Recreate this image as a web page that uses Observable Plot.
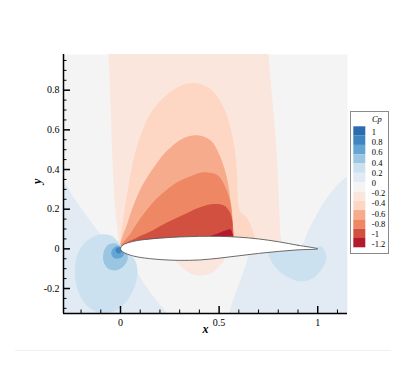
<!DOCTYPE html>
<html><head><meta charset="utf-8">
<script src="https://cdn.jsdelivr.net/npm/d3@7"></script>
<script src="https://cdn.jsdelivr.net/npm/@observablehq/plot@0.6"></script>
<style>
html,body{margin:0;padding:0;background:#fff;}
#wrap{position:relative;width:407px;height:365px;overflow:hidden;}
#chart{position:absolute;left:0;top:0;}
#legend{position:absolute;left:350px;top:111px;border:1px solid #8a8a8a;background:#fff;line-height:0;}
#rule{position:absolute;left:15px;top:350px;width:376px;height:0;border-top:1px solid #f0f0f0;}
</style></head>
<body><div id="wrap"><div id="chart"></div><div id="legend"></div><div id="rule"></div></div>
<script>
// Cp level colours (legend order, top to bottom) and labels
const levelColors = ["#2b6cb0","#3f86c1","#64a5d3","#9bc6e1","#cce1ef","#e2eaf4","#f4f4f4","#fbe6dd","#fdd7c3","#f6ab8d","#ee8763","#d2503f","#b31a2f"];
const levelLabels = ["1","0.8","0.6","0.4","0.2","0","-0.2","-0.4","-0.6","-0.8","-1","-1.2"];

// axis ticks
const xMajor = [0, 0.5, 1];
const xMinor = [-0.2,-0.1,0.1,0.2,0.3,0.4,0.6,0.7,0.8,0.9,1.1];
const yMajor = [-0.2,0,0.2,0.4,0.6,0.8];
const yMinor = [-0.3,-0.25,-0.15,-0.1,-0.05,0.05,0.1,0.15,0.25,0.3,0.35,0.45,0.5,0.55,0.65,0.7,0.75,0.85,0.9,0.95];

// contour band boundaries (x, y)
const blueLeft = [[-0.405,0.396],[-0.289,0.336],[-0.238,0.260],[-0.167,0.159],[-0.086,0.058],[-0.035,0.018],[0,-0.003],[0.030,-0.033],[0.061,-0.073],[0.101,-0.144],[0.152,-0.220],[0.203,-0.285],[0.253,-0.351],[0.253,-0.41],[-0.405,-0.41]];
const blueRight = [[0.659,-0.018],[0.639,-0.068],[0.608,-0.159],[0.573,-0.250],[0.552,-0.326],[0.542,-0.437],[1.368,-0.437],[1.368,0.447],[1.150,0.366],[1.049,0.260],[0.988,0.159],[0.948,0.083],[0.922,0.023],[0.887,0.003],[0.786,-0.013]];
const pinkUpper = [[-0.071,1.104],[-0.061,0.982],[-0.051,0.750],[-0.041,0.447],[-0.030,0.245],[-0.015,0.093],[0,0.008],[0.101,-0.008],[0.405,-0.018],[0.710,0.003],[0.816,0.028],[0.811,0.068],[0.806,0.169],[0.801,0.295],[0.791,0.497],[0.770,0.750],[0.750,0.982],[0.740,1.104]];
const pinkLower = [[0.274,-0.048],[0.304,-0.088],[0.355,-0.124],[0.405,-0.134],[0.456,-0.124],[0.497,-0.093],[0.527,-0.053],[0.517,-0.028],[0.405,-0.028],[0.284,-0.033]];
const peach = [[0,0.008],[0.015,0.159],[0.041,0.321],[0.071,0.472],[0.112,0.598],[0.162,0.699],[0.238,0.780],[0.314,0.826],[0.380,0.836],[0.456,0.806],[0.517,0.725],[0.558,0.608],[0.583,0.472],[0.593,0.321],[0.598,0.220],[0.613,0.179],[0.634,0.164],[0.654,0.134],[0.669,0.093],[0.684,0.043],[0.659,0.013],[0.405,-0.008],[0.101,-0.008],[0.010,-0.003]];
const salmon = [[0,0.008],[0.035,0.129],[0.076,0.245],[0.117,0.331],[0.177,0.422],[0.238,0.497],[0.319,0.558],[0.390,0.573],[0.456,0.548],[0.507,0.462],[0.542,0.346],[0.558,0.245],[0.568,0.159],[0.573,0.068],[0.573,0.018],[0.304,-0.008],[0.025,-0.003]];
const orange = [[0,0.008],[0.051,0.078],[0.101,0.154],[0.152,0.220],[0.213,0.280],[0.279,0.331],[0.355,0.366],[0.421,0.386],[0.492,0.371],[0.532,0.311],[0.558,0.230],[0.568,0.119],[0.568,0.043],[0.304,0.003],[0.025,-0.003]];
const red = [[0,0.008],[0.086,0.058],[0.162,0.093],[0.238,0.134],[0.314,0.169],[0.390,0.205],[0.461,0.225],[0.522,0.220],[0.552,0.189],[0.568,0.134],[0.568,0.063],[0.568,0.028],[0.304,0.008],[0.010,-0.003]];
const darkRed = [[0.431,0.053],[0.481,0.073],[0.532,0.093],[0.558,0.098],[0.568,0.078],[0.568,0.043],[0.481,0.038]];
const teEllipse = [[0.750,-0.008],[0.765,-0.063],[0.806,-0.114],[0.862,-0.149],[0.917,-0.164],[0.973,-0.149],[1.019,-0.104],[1.044,-0.048],[1.034,-0.008],[1.014,0.013],[0.973,0.003],[0.862,-0.008]];
const leRing1 = [[0.005,0.013],[-0.041,0.063],[-0.091,0.073],[-0.152,0.053],[-0.203,0.003],[-0.228,-0.068],[-0.228,-0.159],[-0.203,-0.240],[-0.152,-0.301],[-0.086,-0.326],[-0.015,-0.306],[0.041,-0.250],[0.076,-0.179],[0.086,-0.109],[0.071,-0.053],[0.035,-0.018]];
const leRing2 = [[0.005,0.008],[-0.030,0.028],[-0.066,0.018],[-0.086,-0.018],[-0.086,-0.063],[-0.066,-0.098],[-0.025,-0.109],[0.010,-0.093],[0.035,-0.058],[0.035,-0.028],[0.020,-0.008]];
const leRing3 = [[0.005,0.008],[-0.020,0.013],[-0.041,-0.003],[-0.046,-0.028],[-0.030,-0.048],[-0.005,-0.048],[0.015,-0.033],[0.015,-0.008]];
const leRing4 = [[0.005,0.003],[-0.010,0.008],[-0.025,-0.003],[-0.020,-0.018],[-0.005,-0.023],[0.005,-0.013]];

// airfoil surface
const airfoil = [[1.0,0.0],[0.9,0.018],[0.8,0.036],[0.7,0.050],[0.6,0.059],[0.5,0.063],[0.4,0.063],[0.3,0.060],[0.2,0.054],[0.1,0.044],[0.05,0.034],[0.02,0.024],[0.005,0.012],[0,0],[0.005,-0.010],[0.02,-0.020],[0.05,-0.032],[0.1,-0.043],[0.2,-0.054],[0.3,-0.058],[0.4,-0.056],[0.5,-0.047],[0.6,-0.035],[0.7,-0.023],[0.8,-0.013],[0.9,-0.005]];

const regions = [
  {pts: blueLeft, band: 5}, {pts: blueRight, band: 5},
  {pts: pinkUpper, band: 7}, {pts: pinkLower, band: 7},
  {pts: peach, band: 8}, {pts: salmon, band: 9}, {pts: orange, band: 10},
  {pts: red, band: 11}, {pts: darkRed, band: 12},
  {pts: teEllipse, band: 4},
  {pts: leRing1, band: 4}, {pts: leRing2, band: 3}, {pts: leRing3, band: 2}, {pts: leRing4, band: 1}
];

const W = 407, H = 365, mL = 63, mR = 60, mT = 54, mB = 52;
const frameW = W - mL - mR, frameH = H - mT - mB;
const xDomain = [-0.289, 1.151], yDomain = [-0.326, 0.98];
const font = "'Liberation Serif', 'Times New Roman', serif";

const chart = Plot.plot({
  width: W, height: H,
  marginLeft: mL, marginRight: mR, marginTop: mT, marginBottom: mB,
  x: {domain: xDomain, axis: null},
  y: {domain: yDomain, axis: null},
  style: {fontFamily: font, fontSize: "10px", color: "black", background: "white"},
  marks: [
    Plot.frame({fill: levelColors[6], stroke: "none"}),
    ...regions.map(r => Plot.line(r.pts, {x: d => d[0], y: d => d[1], fill: levelColors[r.band], stroke: "none", curve: "catmull-rom-closed", clip: true})),
    Plot.line(airfoil, {x: d => d[0], y: d => d[1], fill: "white", stroke: "#5a5a5a", strokeWidth: 0.9, curve: "catmull-rom-closed"}),
    Plot.tickX(xMinor, {x: d => d, insetTop: frameH - 3.5, stroke: "black", strokeWidth: 1}),
    Plot.tickX(xMajor, {x: d => d, insetTop: frameH - 7, stroke: "black", strokeWidth: 1.5}),
    Plot.tickY(yMinor, {y: d => d, insetRight: frameW - 3.5, stroke: "black", strokeWidth: 1}),
    Plot.tickY(yMajor, {y: d => d, insetRight: frameW - 7, stroke: "black", strokeWidth: 1.5}),
    Plot.ruleY([yDomain[0]], {stroke: "black", strokeWidth: 1.5}),
    Plot.ruleX([xDomain[0]], {stroke: "black", strokeWidth: 1.5}),
    Plot.axisX({ticks: xMajor, tickSize: 0, tickPadding: 5, tickFormat: d => String(d), label: null, fontSize: 10}),
    Plot.axisY({ticks: yMajor, tickSize: 0, tickPadding: 4, tickFormat: d => String(d), label: null, fontSize: 10}),
    Plot.text(["x"], {frameAnchor: "bottom", dy: 19, text: d => d, fontWeight: "bold", fontStyle: "italic", fontSize: 12}),
    Plot.text(["y"], {frameAnchor: "left", dx: -26, text: d => d, rotate: -90, fontWeight: "bold", fontStyle: "italic", fontSize: 12})
  ]
});
document.getElementById("chart").appendChild(chart);

const legend = Plot.plot({
  width: 37, height: 141, margin: 0,
  x: {domain: [0, 1], range: [2.3, 14.3], axis: null},
  y: {domain: [0, 13], range: [14.3, 135.3], axis: null},
  color: {type: "identity"},
  style: {fontFamily: font, fontSize: "8.5px", color: "black", background: "white", overflow: "visible"},
  marks: [
    Plot.rect(levelColors, {x1: 0, x2: 1, y1: (d, i) => i, y2: (d, i) => i + 1, fill: d => d}),
    Plot.text(levelLabels, {x: 1, y: (d, i) => 0.6 + i * 1.094, text: d => d, textAnchor: "start", dx: 6}),
    Plot.text(["Cp"], {x: 1.92, y: -0.8, text: d => d, fontStyle: "italic"})
  ]
});
document.getElementById("legend").appendChild(legend);
</script>
</body></html>
